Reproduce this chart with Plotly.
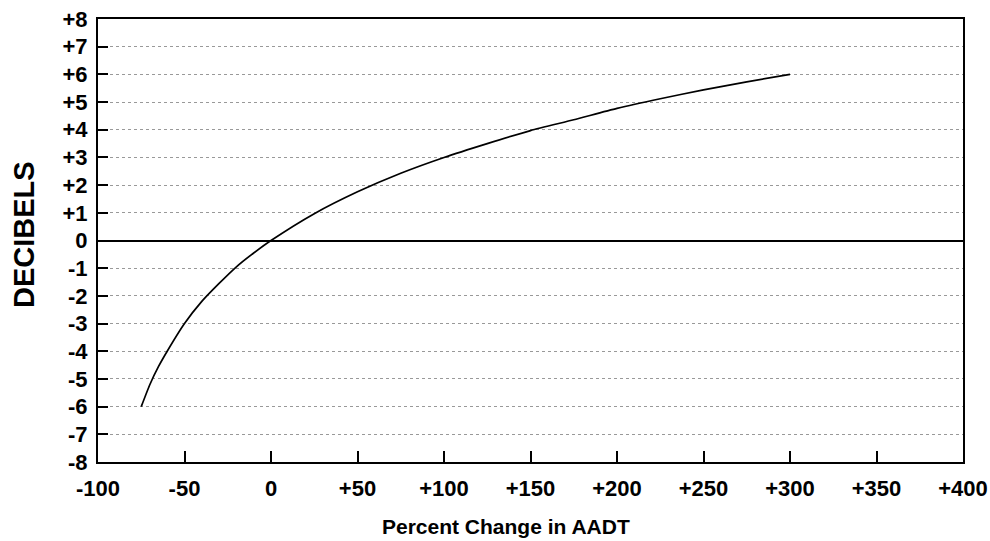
import plotly.graph_objects as go

# Data
pct_change = [-75, -70, -65, -60, -50, -40, -30, -20, -10, 0, 25, 50, 75, 100, 125, 150, 175, 200, 225, 250, 275, 300]
decibels = [-6.0, -5.2, -4.55, -4.0, -3.0, -2.2, -1.55, -0.95, -0.45, 0.0, 0.97, 1.76, 2.43, 3.0, 3.5, 3.97,
            4.36, 4.77, 5.12, 5.44, 5.73, 6.0]

x_tickvals = [-100, -50, 0, 50, 100, 150, 200, 250, 300, 350, 400]
x_ticktext = ["-100", "-50", "0", "+50", "+100", "+150", "+200", "+250", "+300", "+350", "+400"]
y_tickvals = [8, 7, 6, 5, 4, 3, 2, 1, 0, -1, -2, -3, -4, -5, -6, -7, -8]
y_ticktext = ["+8", "+7", "+6", "+5", "+4", "+3", "+2", "+1", "0", "-1", "-2", "-3", "-4", "-5", "-6", "-7", "-8"]

FONT = "Liberation Sans, Arial, Helvetica, sans-serif"

fig = go.Figure()
fig.add_trace(go.Scatter(
    x=pct_change, y=decibels, mode="lines",
    line=dict(color="black", width=1.7, shape="spline", smoothing=0.6),
    hoverinfo="skip", showlegend=False,
))

fig.update_layout(
    width=990, height=541,
    margin=dict(l=98, r=27, t=19, b=79),
    paper_bgcolor="white", plot_bgcolor="white",
    font=dict(family=FONT, color="black"),
    showlegend=False,
    annotations=[
        dict(text="<b>Percent Change in AADT</b>", xref="paper", yref="paper",
             x=0.4717, y=-0.1467, xanchor="center", yanchor="middle", showarrow=False,
             font=dict(family=FONT, size=21, color="black")),
        dict(text="<b>DECIBELS</b>", xref="paper", yref="paper", textangle=-90,
             x=-0.0855, y=0.5124, xanchor="center", yanchor="middle", showarrow=False,
             font=dict(family=FONT, size=29, color="black")),
    ],
)

fig.update_xaxes(
    range=[-100, 400], tickvals=x_tickvals, ticktext=x_ticktext,
    ticks="inside", ticklen=11, tickwidth=1.5, tickcolor="black",
    showline=True, mirror=True, linecolor="black", linewidth=2,
    showgrid=False, zeroline=False, automargin=False,
    tickfont=dict(family=FONT, size=22, color="black", weight="bold"),
    ticklabelstandoff=6,
)
fig.update_yaxes(
    range=[-8, 8], tickvals=y_tickvals, ticktext=y_ticktext,
    ticks="inside", ticklen=10, tickwidth=1.5, tickcolor="black",
    showline=True, mirror=True, linecolor="black", linewidth=2,
    showgrid=True, gridcolor="#999999", gridwidth=1, griddash="dot",
    zeroline=True, zerolinecolor="black", zerolinewidth=1.5, automargin=False,
    tickfont=dict(family=FONT, size=22, color="black", weight="bold"),
    ticklabelstandoff=4,
)

# remove the page's default body margin so the 990x541 figure fills the window exactly
fig.write_html(
    "out.html",
    config={"displayModeBar": False},
    post_script="document.body.style.margin='0px';document.body.style.overflow='hidden';",
)
